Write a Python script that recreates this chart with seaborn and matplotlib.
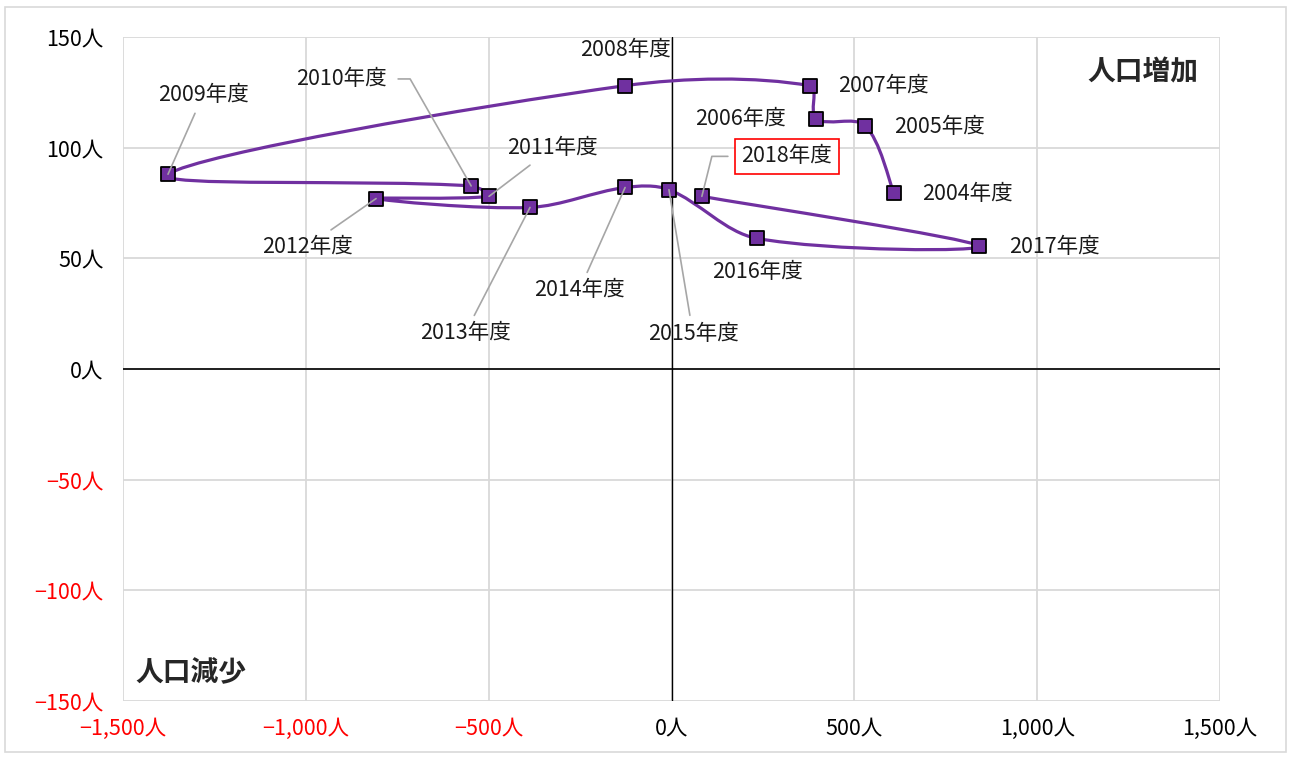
import matplotlib
matplotlib.use("Agg")
import matplotlib.pyplot as plt
from matplotlib.path import Path
from matplotlib.patches import PathPatch, Rectangle
import numpy as np
import pandas as pd
import seaborn as sns

# data (x: social change, y: natural change)
years = ["2004年度", "2005年度", "2006年度", "2007年度", "2008年度", "2009年度",
         "2010年度", "2011年度", "2012年度", "2013年度", "2014年度", "2015年度",
         "2016年度", "2017年度", "2018年度"]
x_vals = [608, 529, 395, 378, -127, -1377, -548, -499, -808, -387, -127, -7, 234, 841, 83]
y_vals = [79.5, 110, 113, 128, 128, 88, 82.7, 78, 77, 73, 82, 81, 59, 55.6, 78]

x_ticks = [-1500, -1000, -500, 0, 500, 1000, 1500]
x_ticklabels = ["−1,500人", "−1,000人", "−500人", "0人", "500人", "1,000人", "1,500人"]
y_ticks = [-150, -100, -50, 0, 50, 100, 150]
y_ticklabels = ["−150人", "−100人", "−50人", "0人", "50人", "100人", "150人"]

# label offsets in pixels (text centre relative to marker), leader line flag
label_offsets = {
    "2004年度": (74, -1, False), "2005年度": (75, -1, False), "2006年度": (-75, 0, False),
    "2007年度": (74, 0, False), "2008年度": (0, 36, False), "2009年度": (35, 79, True),
    "2010年度": (-130, 107, False), "2011年度": (63, 48, True), "2012年度": (-69, -48, True),
    "2013年度": (-65, -126, True), "2014年度": (-46, -103, True), "2015年度": (24, -144, True),
    "2016年度": (0, -34, False), "2017年度": (75, -1, False), "2018年度": (85, 40, False),
}
# elbow leaders: (elbow offset, text-side offset) in pixels from the marker
elbow_leaders = {
    "2010年度": ((-61, 107), (-73, 107)),
    "2018年度": ((10, 40), (26, 40)),
}

df = pd.DataFrame({"year": years, "x": x_vals, "y": y_vals})

sns.set_style("white")
plt.rcParams["font.family"] = ["Noto Sans CJK JP", "DejaVu Sans"]

purple = "#7030A0"
fig = plt.figure(figsize=(12.91, 7.58), dpi=100)
ax = fig.add_axes([0.0953, 0.0752, 0.8497, 0.876])
ax.set_xlim(-1500, 1500)
ax.set_ylim(-150, 150)

# smoothed line, chord-weighted Bezier similar to Excel's smoothing
pts = df[["x", "y"]].to_numpy(dtype=float)
scale = np.array([1097 / 3000, 664 / 300])
n = len(pts)
verts = [pts[0]]
codes = [Path.MOVETO]


def seglen(a, b):
    return np.hypot(*((b - a) * scale))


for i in range(n - 1):
    p0 = pts[i - 1] if i > 0 else pts[i]
    p1, p2 = pts[i], pts[i + 1]
    p3 = pts[i + 2] if i + 2 < n else pts[i + 1]
    l01, l12, l23 = seglen(p0, p1), seglen(p1, p2), seglen(p2, p3)
    w1 = l12 / (l01 + l12) if i > 0 else 0.5
    w2 = l12 / (l12 + l23) if i + 2 < n else 0.5
    c1 = p1 + (p2 - p0) * w1 / 3.0
    c2 = p2 - (p3 - p1) * w2 / 3.0
    verts += [c1, c2, p2]
    codes += [Path.CURVE4] * 3
ax.add_patch(PathPatch(Path(verts, codes), fill=False, edgecolor=purple, lw=2.3, zorder=3))

sns.scatterplot(data=df, x="x", y="y", marker="s", s=95, color=purple,
                edgecolor="black", linewidth=1.3, zorder=4, ax=ax, legend=False)

ax.set_xticks(x_ticks)
ax.set_xticklabels(x_ticklabels)
ax.set_yticks(y_ticks)
ax.set_yticklabels(y_ticklabels)
ax.tick_params(axis="both", length=0, labelsize=15.5)
ax.tick_params(axis="x", pad=12)
ax.tick_params(axis="y", pad=14)
for lab, v in zip(ax.get_xticklabels(), x_ticks):
    lab.set_color("red" if v < 0 else "black")
for lab, v in zip(ax.get_yticklabels(), y_ticks):
    lab.set_color("red" if v < 0 else "black")
ax.set_xlabel("")
ax.set_ylabel("")
ax.grid(True, color="#D9D9D9", lw=1.3)
for s in ax.spines.values():
    s.set_visible(False)
ax.axhline(0, color="black", lw=1.2, zorder=2)
ax.axvline(0, color="black", lw=1.0, zorder=2)

for yr, xv, yv in zip(years, x_vals, y_vals):
    dx, dy, leader = label_offsets[yr]
    bbox = None
    if yr == "2018年度":
        bbox = dict(boxstyle="square,pad=0.3", fc="white", ec="red", lw=1.2)
    ax.annotate(yr, (xv, yv), xytext=(dx, dy), textcoords="offset pixels",
                ha="center", va="center", fontsize=15.5, color="#1a1a1a", bbox=bbox,
                arrowprops=dict(arrowstyle="-", color="#A6A6A6", lw=1.2,
                                shrinkA=3, shrinkB=0) if leader else None,
                zorder=5)
    if yr in elbow_leaders:
        (ex, ey), (tx, ty) = elbow_leaders[yr]
        px, py = ax.transData.transform((xv, yv))
        ax.plot([px, px + ex, px + tx], [py, py + ey, py + ty], color="#A6A6A6",
                lw=1.2, transform=None, zorder=5)

ax.text(0.98, 0.946, "人口増加", transform=ax.transAxes, ha="right", va="center",
        fontsize=20, fontweight="bold")
ax.text(0.011, 0.042, "人口減少", transform=ax.transAxes, ha="left", va="center",
        fontsize=20, fontweight="bold")

fig.patches.append(Rectangle((0.004, 0.008), 0.992, 0.983, transform=fig.transFigure,
                             fill=False, edgecolor="#D9D9D9", lw=1.2))

fig.savefig("out.png", dpi=100)
